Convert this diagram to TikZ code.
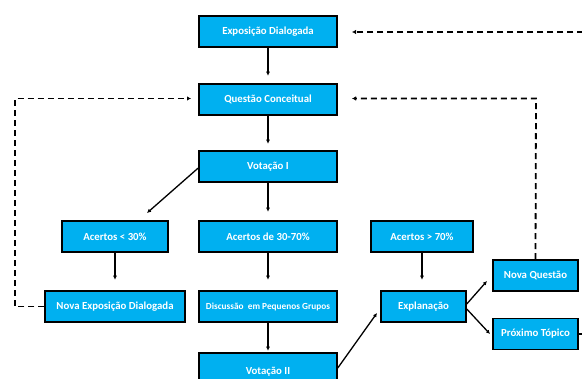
\documentclass[tikz,border=0pt]{standalone}
\usepackage{fontspec}
\setmainfont{Carlito}
\usetikzlibrary{arrows.meta}
\definecolor{boxfill}{RGB}{0,176,240}
\tikzset{
  box/.style={draw=black, line width=1.5pt, fill=boxfill, text=white, font=\bfseries\fontsize{10.8}{12}\selectfont, inner sep=0pt, anchor=center},
  conn/.style={line width=1.3pt, -{Latex[length=4pt,width=4pt]}},
  dconn/.style={line width=1.8pt, dash pattern=on 6pt off 4pt, -{Latex[length=4pt,width=4.5pt]}}
}
\begin{document}
\begin{tikzpicture}[x=1pt,y=-1pt]
\useasboundingbox (0,0) rectangle (582,379);
\clip (0,0) rectangle (582,379);
\node[box, minimum width=138pt, minimum height=31pt] (ed) at (268,31.5) {Exposição Dialogada};
\node[box, minimum width=138pt, minimum height=31pt] (qc) at (268,99.5) {Questão Conceitual};
\node[box, minimum width=138pt, minimum height=31pt] (v1) at (268,166.5) {Votação I};
\node[box, minimum width=106pt, minimum height=31pt] (a30) at (115,236.5) {Acertos < 30\%};
\node[box, minimum width=138pt, minimum height=31pt] (a3070) at (268,236.5) {Acertos de 30-70\%};
\node[box, minimum width=102pt, minimum height=31pt] (a70) at (422,236.5) {Acertos > 70\%};
\node[box, minimum width=140pt, minimum height=31pt] (ned) at (115,306.5) {Nova Exposição Dialogada};
\node[box, minimum width=138pt, minimum height=31pt, font=\bfseries\fontsize{9.3}{10}\selectfont] (dpg) at (268,306.5) {Discussão\ \ em Pequenos Grupos};
\node[box, minimum width=138pt, minimum height=38pt] (v2) at (268,372) {Votação II};
\node[box, minimum width=85pt, minimum height=31pt] (exp) at (423.5,306.5) {Explanação};
\node[box, minimum width=85pt, minimum height=31pt] (nq) at (535.5,275.5) {Nova Questão};
\node[box, minimum width=85pt, minimum height=31pt] (pt) at (535.5,334) {Próximo Tópico};

\coordinate (c1) at (147,213);
\coordinate (c2) at (377,313);
\coordinate (c3) at (487,281);
\coordinate (c4) at (490,334);

\draw[conn] (ed.south) -- ++(0,28);
\draw[conn] (qc.south) -- ++(0,28);
\draw[conn] (v1.west |- 0,168) -- (c1);
\draw[conn] (v1.south) -- ++(0,29);
\draw[conn] (a30.south) -- ++(0,27);
\draw[conn] (a3070.south) -- ++(0,27);
\draw[conn] (a70.south) -- ++(0,27);
\draw[conn] (dpg.south) -- ++(0,28);
\draw[conn] (v2.east |- 0,368) -- (c2);
\draw[conn] (exp.east |- 0,304) -- (c3);
\draw[conn] (exp.east |- 0,309) -- (c4);

\draw[dconn] (ned.west) -- (15,306.5) -- (15,98.5) -- (191,98.5);
\draw[dconn] (nq.north) -- (536,98.5) -- (352,98.5);
\draw[dconn] (pt.east) -- (600,334) -- (600,32) -- (352,32);
\end{tikzpicture}
\end{document}
